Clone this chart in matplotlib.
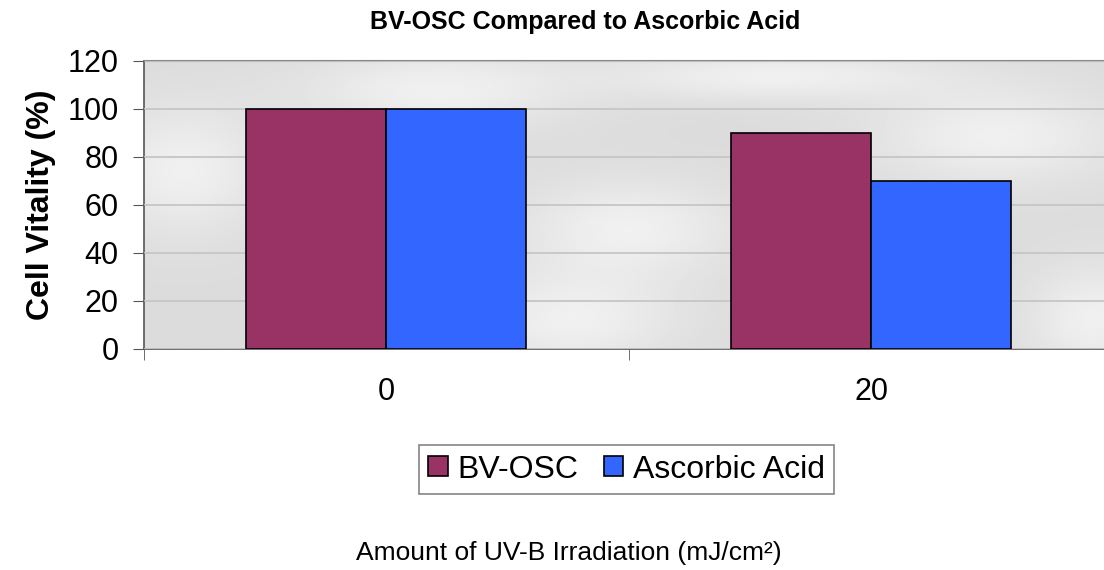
import numpy as np
import matplotlib.pyplot as plt

# data
categories = ['0', '20']
bv_osc = [100, 90]
ascorbic = [100, 70]
series_names = ['BV-OSC', 'Ascorbic Acid']
yticks = [0, 20, 40, 60, 80, 100, 120]

plt.rcParams['font.family'] = ['Liberation Sans', 'DejaVu Sans']

fig = plt.figure(figsize=(11.04, 5.70), dpi=100)
# plot area runs past the right edge of the picture, as in the reference
ax = fig.add_axes([143.5 / 1104, 1 - 349 / 570, 970 / 1104, 288 / 570])

# soft grey "photo" backdrop: a few light patches on a grey base (axes fractions)
gx, gy = np.meshgrid(np.linspace(0, 1, 400), np.linspace(0, 1, 150))
bg = np.full(gx.shape, 0.86)
patches = [(0.30, 0.90, 0.10, 0.10), (0.04, 0.62, 0.06, 0.16), (0.88, 0.74, 0.09, 0.12),
           (0.50, 0.42, 0.08, 0.12), (0.44, 0.10, 0.08, 0.12), (0.98, 0.10, 0.05, 0.14),
           (0.65, 0.95, 0.12, 0.06)]
for cx, cy, sx, sy in patches:
    bg += 0.08 * np.exp(-((gx - cx) ** 2 / (2 * sx ** 2) + (gy - cy) ** 2 / (2 * sy ** 2)))
bg = np.clip(bg, 0, 0.97)
ax.imshow(bg, cmap='gray', vmin=0, vmax=1, origin='lower', extent=(0, 1, 0, 1),
          transform=ax.transAxes, aspect='auto', zorder=0, interpolation='bilinear')

x = np.arange(len(categories))
w = 0.289
ax.bar(x - w / 2, bv_osc, w, color='#993366', edgecolor='black', linewidth=1.2,
       label=series_names[0], zorder=3)
ax.bar(x + w / 2, ascorbic, w, color='#3366ff', edgecolor='black', linewidth=1.2,
       label=series_names[1], zorder=3)

ax.set_xlim(-0.5, len(categories) - 0.5)
ax.set_ylim(0, 120)
ax.set_yticks(yticks)
ax.yaxis.grid(True, color='#c6c6c6', linewidth=1.3, zorder=1)
ax.set_axisbelow(False)

ax.set_xticks(x)
ax.set_xticklabels(categories)
ax.set_xticks(np.arange(-0.5, len(categories)), minor=True)
ax.tick_params(axis='x', which='major', length=0, pad=20, labelsize=22)
ax.tick_params(axis='x', which='minor', length=8, color='#555555')
ax.tick_params(axis='y', length=8, color='#555555', labelsize=22, pad=10)

ax.spines['right'].set_visible(False)
ax.spines['top'].set_color('#888888')
ax.spines['top'].set_linewidth(1.5)
for s in ['left', 'bottom']:
    ax.spines[s].set_color('#555555')
    ax.spines[s].set_linewidth(1.2)

ax.set_ylabel('Cell Vitality (%)', fontsize=23, fontweight='bold', labelpad=8)
fig.text(585 / 1104, 1 - 22 / 570, 'BV-OSC Compared to Ascorbic Acid',
         ha='center', va='center', fontsize=18, fontweight='bold')

leg = fig.legend(loc='center', bbox_to_anchor=(626.5 / 1104, 1 - 469.5 / 570), ncol=2,
                 fontsize=23, frameon=True, fancybox=False, edgecolor='#666666',
                 handlelength=0.6, handleheight=0.6, handletextpad=0.3,
                 columnspacing=0.8, borderpad=0.3)
leg.get_frame().set_linewidth(1.2)

fig.text(569 / 1104, 1 - 553 / 570, 'Amount of UV-B Irradiation (mJ/cm²)',
         ha='center', va='center', fontsize=19)

fig.savefig('out.png', dpi=100)
